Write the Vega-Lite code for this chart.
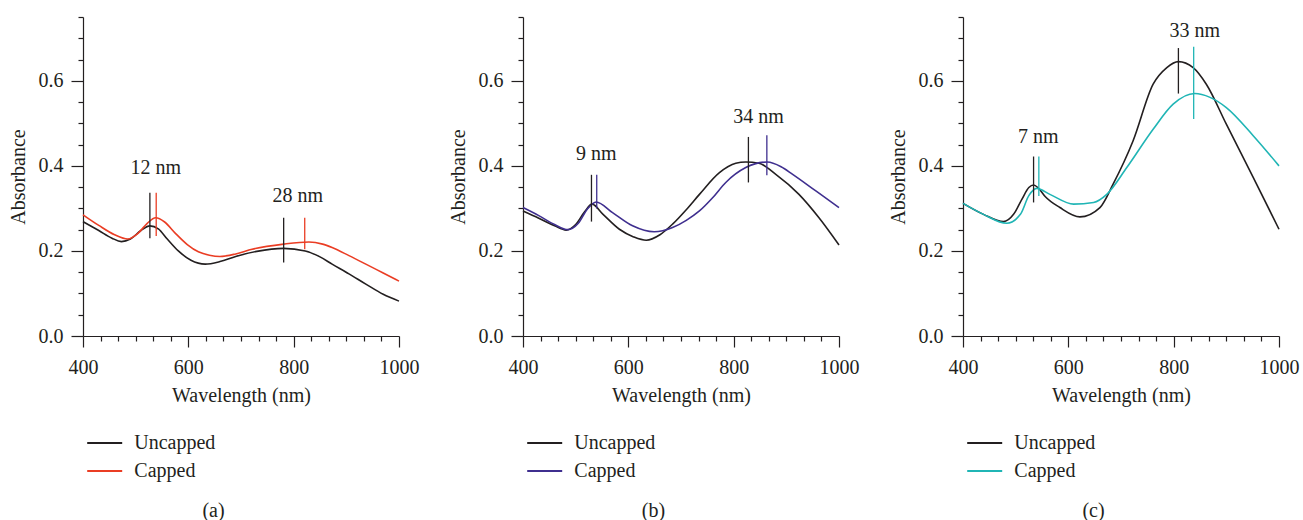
{
  "$schema": "https://vega.github.io/schema/vega-lite/v6.json",
  "padding": {"left": 8, "top": 16, "right": 5, "bottom": 0},
  "background": "white",
  "config": {
    "view": {"stroke": null},
    "font": "Liberation Serif",
    "axis": {
      "domainColor": "#231f20", "domainWidth": 1.2, "tickColor": "#231f20", "tickWidth": 1.2,
      "labelFont": "Liberation Serif", "labelFontSize": 20, "labelColor": "#231f20",
      "titleFont": "Liberation Serif", "titleFontSize": 20, "titleFontWeight": "normal", "titleColor": "#231f20",
      "grid": false, "labelFlush": false, "labelOverlap": false
    },
    "legend": {
      "labelFont": "Liberation Serif", "labelFontSize": 20, "labelColor": "#231f20",
      "symbolType": "M-3,0H3", "symbolSize": 136, "symbolStrokeWidth": 2, "labelOffset": 19.6, "rowPadding": 8, "padding": 0
    },
    "title": {"font": "Liberation Serif", "fontSize": 20, "fontWeight": "normal", "color": "#231f20"}
  },
  "datasets": {
    "a_lines": [
      {"s": "Uncapped", "wl": 400, "a": 0.269}, {"s": "Uncapped", "wl": 430, "a": 0.248}, {"s": "Uncapped", "wl": 455, "a": 0.230}, {"s": "Uncapped", "wl": 473, "a": 0.222}, {"s": "Uncapped", "wl": 490, "a": 0.228}, {"s": "Uncapped", "wl": 510, "a": 0.248}, {"s": "Uncapped", "wl": 527, "a": 0.259}, {"s": "Uncapped", "wl": 543, "a": 0.252}, {"s": "Uncapped", "wl": 560, "a": 0.228}, {"s": "Uncapped", "wl": 581, "a": 0.200}, {"s": "Uncapped", "wl": 605, "a": 0.178}, {"s": "Uncapped", "wl": 632, "a": 0.169}, {"s": "Uncapped", "wl": 660, "a": 0.175}, {"s": "Uncapped", "wl": 690, "a": 0.187}, {"s": "Uncapped", "wl": 730, "a": 0.199}, {"s": "Uncapped", "wl": 781, "a": 0.206}, {"s": "Uncapped", "wl": 822, "a": 0.200}, {"s": "Uncapped", "wl": 850, "a": 0.186}, {"s": "Uncapped", "wl": 873, "a": 0.169}, {"s": "Uncapped", "wl": 905, "a": 0.146}, {"s": "Uncapped", "wl": 937, "a": 0.122}, {"s": "Uncapped", "wl": 970, "a": 0.098}, {"s": "Uncapped", "wl": 1000, "a": 0.082},
      {"s": "Capped", "wl": 400, "a": 0.285}, {"s": "Capped", "wl": 430, "a": 0.260}, {"s": "Capped", "wl": 460, "a": 0.238}, {"s": "Capped", "wl": 485, "a": 0.228}, {"s": "Capped", "wl": 505, "a": 0.242}, {"s": "Capped", "wl": 522, "a": 0.265}, {"s": "Capped", "wl": 538, "a": 0.278}, {"s": "Capped", "wl": 555, "a": 0.268}, {"s": "Capped", "wl": 575, "a": 0.242}, {"s": "Capped", "wl": 598, "a": 0.215}, {"s": "Capped", "wl": 619, "a": 0.198}, {"s": "Capped", "wl": 640, "a": 0.190}, {"s": "Capped", "wl": 660, "a": 0.187}, {"s": "Capped", "wl": 690, "a": 0.193}, {"s": "Capped", "wl": 721, "a": 0.204}, {"s": "Capped", "wl": 781, "a": 0.216}, {"s": "Capped", "wl": 829, "a": 0.221}, {"s": "Capped", "wl": 855, "a": 0.216}, {"s": "Capped", "wl": 873, "a": 0.208}, {"s": "Capped", "wl": 905, "a": 0.189}, {"s": "Capped", "wl": 937, "a": 0.169}, {"s": "Capped", "wl": 970, "a": 0.148}, {"s": "Capped", "wl": 1000, "a": 0.129}
    ],
    "a_marks": [
      {"s": "Uncapped", "wl": 527, "lo": 0.230, "hi": 0.337},
      {"s": "Capped", "wl": 539, "lo": 0.235, "hi": 0.337},
      {"s": "Uncapped", "wl": 781, "lo": 0.173, "hi": 0.278},
      {"s": "Capped", "wl": 821, "lo": 0.204, "hi": 0.278}
    ],
    "a_text": [
      {"wl": 538, "a": 0.396, "t": "12 nm"},
      {"wl": 808, "a": 0.329, "t": "28 nm"}
    ],
    "b_lines": [
      {"s": "Uncapped", "wl": 400, "a": 0.294}, {"s": "Uncapped", "wl": 430, "a": 0.277}, {"s": "Uncapped", "wl": 460, "a": 0.259}, {"s": "Uncapped", "wl": 482, "a": 0.249}, {"s": "Uncapped", "wl": 500, "a": 0.262}, {"s": "Uncapped", "wl": 517, "a": 0.292}, {"s": "Uncapped", "wl": 531, "a": 0.310}, {"s": "Uncapped", "wl": 552, "a": 0.286}, {"s": "Uncapped", "wl": 583, "a": 0.251}, {"s": "Uncapped", "wl": 610, "a": 0.233}, {"s": "Uncapped", "wl": 634, "a": 0.225}, {"s": "Uncapped", "wl": 660, "a": 0.238}, {"s": "Uncapped", "wl": 684, "a": 0.263}, {"s": "Uncapped", "wl": 710, "a": 0.297}, {"s": "Uncapped", "wl": 735, "a": 0.333}, {"s": "Uncapped", "wl": 773, "a": 0.384}, {"s": "Uncapped", "wl": 804, "a": 0.406}, {"s": "Uncapped", "wl": 823, "a": 0.409}, {"s": "Uncapped", "wl": 848, "a": 0.406}, {"s": "Uncapped", "wl": 880, "a": 0.380}, {"s": "Uncapped", "wl": 924, "a": 0.333}, {"s": "Uncapped", "wl": 962, "a": 0.278}, {"s": "Uncapped", "wl": 1000, "a": 0.214},
      {"s": "Capped", "wl": 400, "a": 0.302}, {"s": "Capped", "wl": 430, "a": 0.283}, {"s": "Capped", "wl": 460, "a": 0.262}, {"s": "Capped", "wl": 485, "a": 0.250}, {"s": "Capped", "wl": 505, "a": 0.265}, {"s": "Capped", "wl": 522, "a": 0.298}, {"s": "Capped", "wl": 539, "a": 0.315}, {"s": "Capped", "wl": 570, "a": 0.290}, {"s": "Capped", "wl": 608, "a": 0.259}, {"s": "Capped", "wl": 649, "a": 0.245}, {"s": "Capped", "wl": 684, "a": 0.255}, {"s": "Capped", "wl": 710, "a": 0.272}, {"s": "Capped", "wl": 735, "a": 0.294}, {"s": "Capped", "wl": 760, "a": 0.325}, {"s": "Capped", "wl": 785, "a": 0.361}, {"s": "Capped", "wl": 823, "a": 0.396}, {"s": "Capped", "wl": 864, "a": 0.409}, {"s": "Capped", "wl": 890, "a": 0.398}, {"s": "Capped", "wl": 912, "a": 0.380}, {"s": "Capped", "wl": 956, "a": 0.341}, {"s": "Capped", "wl": 1000, "a": 0.302}
    ],
    "b_marks": [
      {"s": "Uncapped", "wl": 530, "lo": 0.269, "hi": 0.379},
      {"s": "Capped", "wl": 540, "lo": 0.300, "hi": 0.379},
      {"s": "Uncapped", "wl": 828, "lo": 0.361, "hi": 0.468},
      {"s": "Capped", "wl": 863, "lo": 0.378, "hi": 0.472}
    ],
    "b_text": [
      {"wl": 539, "a": 0.429, "t": "9 nm"},
      {"wl": 847, "a": 0.515, "t": "34 nm"}
    ],
    "c_lines": [
      {"s": "Uncapped", "wl": 400, "a": 0.312}, {"s": "Uncapped", "wl": 439, "a": 0.286}, {"s": "Uncapped", "wl": 477, "a": 0.269}, {"s": "Uncapped", "wl": 496, "a": 0.286}, {"s": "Uncapped", "wl": 512, "a": 0.322}, {"s": "Uncapped", "wl": 525, "a": 0.349}, {"s": "Uncapped", "wl": 534, "a": 0.355}, {"s": "Uncapped", "wl": 543, "a": 0.348}, {"s": "Uncapped", "wl": 556, "a": 0.328}, {"s": "Uncapped", "wl": 584, "a": 0.302}, {"s": "Uncapped", "wl": 622, "a": 0.280}, {"s": "Uncapped", "wl": 660, "a": 0.302}, {"s": "Uncapped", "wl": 685, "a": 0.357}, {"s": "Uncapped", "wl": 723, "a": 0.459}, {"s": "Uncapped", "wl": 761, "a": 0.592}, {"s": "Uncapped", "wl": 787, "a": 0.631}, {"s": "Uncapped", "wl": 809, "a": 0.645}, {"s": "Uncapped", "wl": 837, "a": 0.631}, {"s": "Uncapped", "wl": 862, "a": 0.592}, {"s": "Uncapped", "wl": 900, "a": 0.498}, {"s": "Uncapped", "wl": 951, "a": 0.373}, {"s": "Uncapped", "wl": 1000, "a": 0.251},
      {"s": "Capped", "wl": 400, "a": 0.312}, {"s": "Capped", "wl": 439, "a": 0.286}, {"s": "Capped", "wl": 483, "a": 0.265}, {"s": "Capped", "wl": 509, "a": 0.286}, {"s": "Capped", "wl": 525, "a": 0.330}, {"s": "Capped", "wl": 540, "a": 0.347}, {"s": "Capped", "wl": 565, "a": 0.333}, {"s": "Capped", "wl": 610, "a": 0.310}, {"s": "Capped", "wl": 648, "a": 0.314}, {"s": "Capped", "wl": 673, "a": 0.333}, {"s": "Capped", "wl": 711, "a": 0.396}, {"s": "Capped", "wl": 761, "a": 0.486}, {"s": "Capped", "wl": 799, "a": 0.545}, {"s": "Capped", "wl": 840, "a": 0.570}, {"s": "Capped", "wl": 869, "a": 0.561}, {"s": "Capped", "wl": 900, "a": 0.537}, {"s": "Capped", "wl": 951, "a": 0.471}, {"s": "Capped", "wl": 1000, "a": 0.400}
    ],
    "c_marks": [
      {"s": "Uncapped", "wl": 534, "lo": 0.314, "hi": 0.422},
      {"s": "Capped", "wl": 544, "lo": 0.329, "hi": 0.422},
      {"s": "Uncapped", "wl": 809, "lo": 0.570, "hi": 0.677},
      {"s": "Capped", "wl": 838, "lo": 0.510, "hi": 0.680}
    ],
    "c_text": [
      {"wl": 543, "a": 0.468, "t": "7 nm"},
      {"wl": 840, "a": 0.718, "t": "33 nm"}
    ]
  },
  "hconcat": [
    {
      "width": 316, "height": 319,
      "title": {"text": "(a)", "orient": "bottom", "anchor": "middle", "frame": "bounds", "offset": 20},
      "layer": [
        {
          "data": {"name": "a_lines"},
          "mark": {"type": "line", "opacity": 0},
          "encoding": {
            "x": {"field": "wl", "type": "quantitative", "axis": {"orient": "bottom", "title": null, "labels": false, "domain": false, "tickSize": 5,
              "values": [433.33, 466.67, 500, 533.33, 566.67, 633.33, 666.67, 700, 733.33, 766.67, 833.33, 866.67, 900, 933.33, 966.67]}},
            "y": {"field": "a", "type": "quantitative", "axis": {"orient": "left", "title": null, "labels": false, "domain": false, "tickSize": 5,
              "values": [0.05, 0.1, 0.15, 0.25, 0.3, 0.35, 0.45, 0.5, 0.55, 0.65, 0.7, 0.75]}}
          }
        },
        {
          "data": {"name": "a_lines"},
          "mark": {"type": "line", "strokeWidth": 1.6, "interpolate": "monotone"},
          "encoding": {
            "x": {"field": "wl", "type": "quantitative", "scale": {"domain": [400, 1000], "nice": false},
              "axis": {"orient": "bottom", "title": "Wavelength (nm)", "values": [400, 600, 800, 1000], "format": "d", "tickSize": 11, "labelPadding": 10, "titlePadding": 8}},
            "y": {"field": "a", "type": "quantitative", "scale": {"domain": [0, 0.75], "nice": false, "zero": true},
              "axis": {"orient": "left", "title": "Absorbance", "values": [0, 0.2, 0.4, 0.6], "format": ".1f", "tickSize": 12, "labelPadding": 8, "titlePadding": 10}},
            "color": {"field": "s", "type": "nominal", "scale": {"domain": ["Uncapped", "Capped"], "range": ["#231f20", "#ea3d24"]},
              "legend": {"title": null, "orient": "none", "legendX": 11.7, "legendY": 416, "direction": "vertical", "symbolType": "M-3,0H3"}}
          }
        },
        {
          "data": {"name": "a_marks"},
          "mark": {"type": "rule", "strokeWidth": 1.3},
          "encoding": {
            "x": {"field": "wl", "type": "quantitative", "axis": null},
            "y": {"field": "lo", "type": "quantitative", "axis": null},
            "y2": {"field": "hi"},
            "color": {"field": "s", "type": "nominal", "legend": null}
          }
        },
        {
          "data": {"name": "a_text"},
          "mark": {"type": "text", "fontSize": 20, "font": "Liberation Serif", "color": "#231f20"},
          "encoding": {
            "x": {"field": "wl", "type": "quantitative", "axis": null},
            "y": {"field": "a", "type": "quantitative", "axis": null},
            "text": {"field": "t"}
          }
        }
      ],
      "resolve": {"axis": {"x": "independent", "y": "independent"}}
    },
    {
      "width": 316, "height": 319,
      "title": {"text": "(b)", "orient": "bottom", "anchor": "middle", "frame": "bounds", "offset": 20},
      "layer": [
        {
          "data": {"name": "b_lines"},
          "mark": {"type": "line", "opacity": 0},
          "encoding": {
            "x": {"field": "wl", "type": "quantitative", "axis": {"orient": "bottom", "title": null, "labels": false, "domain": false, "tickSize": 5,
              "values": [433.33, 466.67, 500, 533.33, 566.67, 633.33, 666.67, 700, 733.33, 766.67, 833.33, 866.67, 900, 933.33, 966.67]}},
            "y": {"field": "a", "type": "quantitative", "axis": {"orient": "left", "title": null, "labels": false, "domain": false, "tickSize": 5,
              "values": [0.05, 0.1, 0.15, 0.25, 0.3, 0.35, 0.45, 0.5, 0.55, 0.65, 0.7, 0.75]}}
          }
        },
        {
          "data": {"name": "b_lines"},
          "mark": {"type": "line", "strokeWidth": 1.6, "interpolate": "monotone"},
          "encoding": {
            "x": {"field": "wl", "type": "quantitative", "scale": {"domain": [400, 1000], "nice": false},
              "axis": {"orient": "bottom", "title": "Wavelength (nm)", "values": [400, 600, 800, 1000], "format": "d", "tickSize": 11, "labelPadding": 10, "titlePadding": 8}},
            "y": {"field": "a", "type": "quantitative", "scale": {"domain": [0, 0.75], "nice": false, "zero": true},
              "axis": {"orient": "left", "title": "Absorbance", "values": [0, 0.2, 0.4, 0.6], "format": ".1f", "tickSize": 12, "labelPadding": 8, "titlePadding": 10}},
            "color": {"field": "s", "type": "nominal", "scale": {"domain": ["Uncapped", "Capped"], "range": ["#231f20", "#3f2f8f"]},
              "legend": {"title": null, "orient": "none", "legendX": 11.7, "legendY": 416, "direction": "vertical", "symbolType": "M-3,0H3"}}
          }
        },
        {
          "data": {"name": "b_marks"},
          "mark": {"type": "rule", "strokeWidth": 1.3},
          "encoding": {
            "x": {"field": "wl", "type": "quantitative", "axis": null},
            "y": {"field": "lo", "type": "quantitative", "axis": null},
            "y2": {"field": "hi"},
            "color": {"field": "s", "type": "nominal", "legend": null}
          }
        },
        {
          "data": {"name": "b_text"},
          "mark": {"type": "text", "fontSize": 20, "font": "Liberation Serif", "color": "#231f20"},
          "encoding": {
            "x": {"field": "wl", "type": "quantitative", "axis": null},
            "y": {"field": "a", "type": "quantitative", "axis": null},
            "text": {"field": "t"}
          }
        }
      ],
      "resolve": {"axis": {"x": "independent", "y": "independent"}}
    },
    {
      "width": 316, "height": 319,
      "title": {"text": "(c)", "orient": "bottom", "anchor": "middle", "frame": "bounds", "offset": 20},
      "layer": [
        {
          "data": {"name": "c_lines"},
          "mark": {"type": "line", "opacity": 0},
          "encoding": {
            "x": {"field": "wl", "type": "quantitative", "axis": {"orient": "bottom", "title": null, "labels": false, "domain": false, "tickSize": 5,
              "values": [433.33, 466.67, 500, 533.33, 566.67, 633.33, 666.67, 700, 733.33, 766.67, 833.33, 866.67, 900, 933.33, 966.67]}},
            "y": {"field": "a", "type": "quantitative", "axis": {"orient": "left", "title": null, "labels": false, "domain": false, "tickSize": 5,
              "values": [0.05, 0.1, 0.15, 0.25, 0.3, 0.35, 0.45, 0.5, 0.55, 0.65, 0.7, 0.75]}}
          }
        },
        {
          "data": {"name": "c_lines"},
          "mark": {"type": "line", "strokeWidth": 1.6, "interpolate": "monotone"},
          "encoding": {
            "x": {"field": "wl", "type": "quantitative", "scale": {"domain": [400, 1000], "nice": false},
              "axis": {"orient": "bottom", "title": "Wavelength (nm)", "values": [400, 600, 800, 1000], "format": "d", "tickSize": 11, "labelPadding": 10, "titlePadding": 8}},
            "y": {"field": "a", "type": "quantitative", "scale": {"domain": [0, 0.75], "nice": false, "zero": true},
              "axis": {"orient": "left", "title": "Absorbance", "values": [0, 0.2, 0.4, 0.6], "format": ".1f", "tickSize": 12, "labelPadding": 8, "titlePadding": 10}},
            "color": {"field": "s", "type": "nominal", "scale": {"domain": ["Uncapped", "Capped"], "range": ["#231f20", "#20b5b5"]},
              "legend": {"title": null, "orient": "none", "legendX": 11.7, "legendY": 416, "direction": "vertical", "symbolType": "M-3,0H3"}}
          }
        },
        {
          "data": {"name": "c_marks"},
          "mark": {"type": "rule", "strokeWidth": 1.3},
          "encoding": {
            "x": {"field": "wl", "type": "quantitative", "axis": null},
            "y": {"field": "lo", "type": "quantitative", "axis": null},
            "y2": {"field": "hi"},
            "color": {"field": "s", "type": "nominal", "legend": null}
          }
        },
        {
          "data": {"name": "c_text"},
          "mark": {"type": "text", "fontSize": 20, "font": "Liberation Serif", "color": "#231f20"},
          "encoding": {
            "x": {"field": "wl", "type": "quantitative", "axis": null},
            "y": {"field": "a", "type": "quantitative", "axis": null},
            "text": {"field": "t"}
          }
        }
      ],
      "resolve": {"axis": {"x": "independent", "y": "independent"}}
    }
  ],
  "spacing": 124,
  "bounds": "flush",
  "resolve": {"scale": {"color": "independent", "x": "independent", "y": "independent"}, "legend": {"color": "independent"}}
}
